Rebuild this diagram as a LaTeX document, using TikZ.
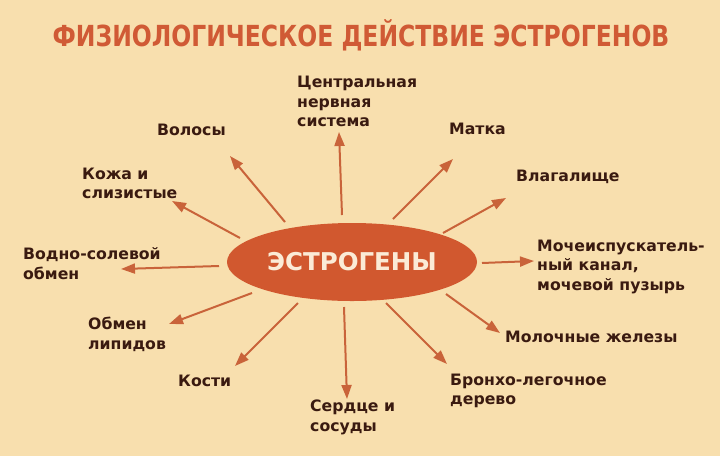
\documentclass[tikz,border=0pt]{standalone}
\usepackage{fontspec}
\setmainfont{DejaVu Sans}
\newfontfamily\titlefont{DejaVu Sans Condensed}
\usetikzlibrary{arrows.meta,shapes.geometric}
\definecolor{bgc}{HTML}{F8DFAE}
\definecolor{ellc}{HTML}{D1582F}
\definecolor{arrc}{HTML}{C9633A}
\definecolor{txtc}{HTML}{3A1A10}
\definecolor{titc}{HTML}{D05A35}
\definecolor{elltxt}{HTML}{FBEBD6}
\tikzset{
  lbl/.style={anchor=west, inner sep=0pt, align=left, text=txtc,
    font=\bfseries\fontsize{15.7}{19.5}\selectfont},
  arr/.style={draw=arrc, line width=2pt,
    -{Triangle[length=14pt,width=10pt]}, fill=arrc}
}
\begin{document}
\begin{tikzpicture}[x=1pt,y=-1pt]
\fill[bgc] (0,0) rectangle (720,456);
\useasboundingbox (0,0) rectangle (720,456);
\node[inner sep=0pt, text=titc] (title) at (361,35.5)
  {\scalebox{0.9}[1]{\titlefont\bfseries\fontsize{29}{32}\selectfont ФИЗИОЛОГИЧЕСКОЕ ДЕЙСТВИЕ ЭСТРОГЕНОВ}};
\node[ellipse, fill=ellc, minimum width=250pt, minimum height=78pt, inner sep=0pt,
  text=elltxt, font=\bfseries\fontsize{24.5}{28}\selectfont] (est) at (352,262) {ЭСТРОГЕНЫ};
% labels
\node[lbl] (cns) at (297,101.5) {Центральная\\нервная\\система};
\node[lbl] (hair) at (157,130) {Волосы};
\node[lbl] (uter) at (449,129) {Матка};
\node[lbl] (skin) at (82,183.5) {Кожа и\\слизистые};
\node[lbl] (vag) at (516,177) {Влагалище};
\node[lbl] (water) at (23,263.5) {Водно-солевой\\обмен};
\node[lbl] (uret) at (537,266.5) {Мочеиспускатель-\\ный канал,\\мочевой пузырь};
\node[lbl] (lip) at (88,334.5) {Обмен\\липидов};
\node[lbl] (breast) at (505,337) {Молочные железы};
\node[lbl] (bone) at (178,381) {Кости};
\node[lbl] (heart) at (310,417.5) {Сердце и\\сосуды};
\node[lbl] (bron) at (450,391) {Бронхо-легочное\\дерево};
% arrow ends
\coordinate (s1) at (342,215);  \coordinate (t1) at (339,132);
\coordinate (s2) at (285,222);  \coordinate (t2) at (230,156);
\coordinate (s3) at (240,238);  \coordinate (t3) at (172,201);
\coordinate (s4) at (219,266);  \coordinate (t4) at (121,269);
\coordinate (s5) at (252,293);  \coordinate (t5) at (169,324);
\coordinate (s6) at (298,303);  \coordinate (t6) at (235,366);
\coordinate (s7) at (344,307);  \coordinate (t7) at (347,399);
\coordinate (s8) at (386,303);  \coordinate (t8) at (447,364);
\coordinate (s9) at (446,294);  \coordinate (t9) at (500,333);
\coordinate (s10) at (482,263); \coordinate (t10) at (534,261);
\coordinate (s11) at (443,233); \coordinate (t11) at (506,198);
\coordinate (s12) at (393,219); \coordinate (t12) at (453,159);
\foreach \i in {1,...,12} { \draw[arr] (s\i) -- (t\i); }
\end{tikzpicture}
\end{document}
